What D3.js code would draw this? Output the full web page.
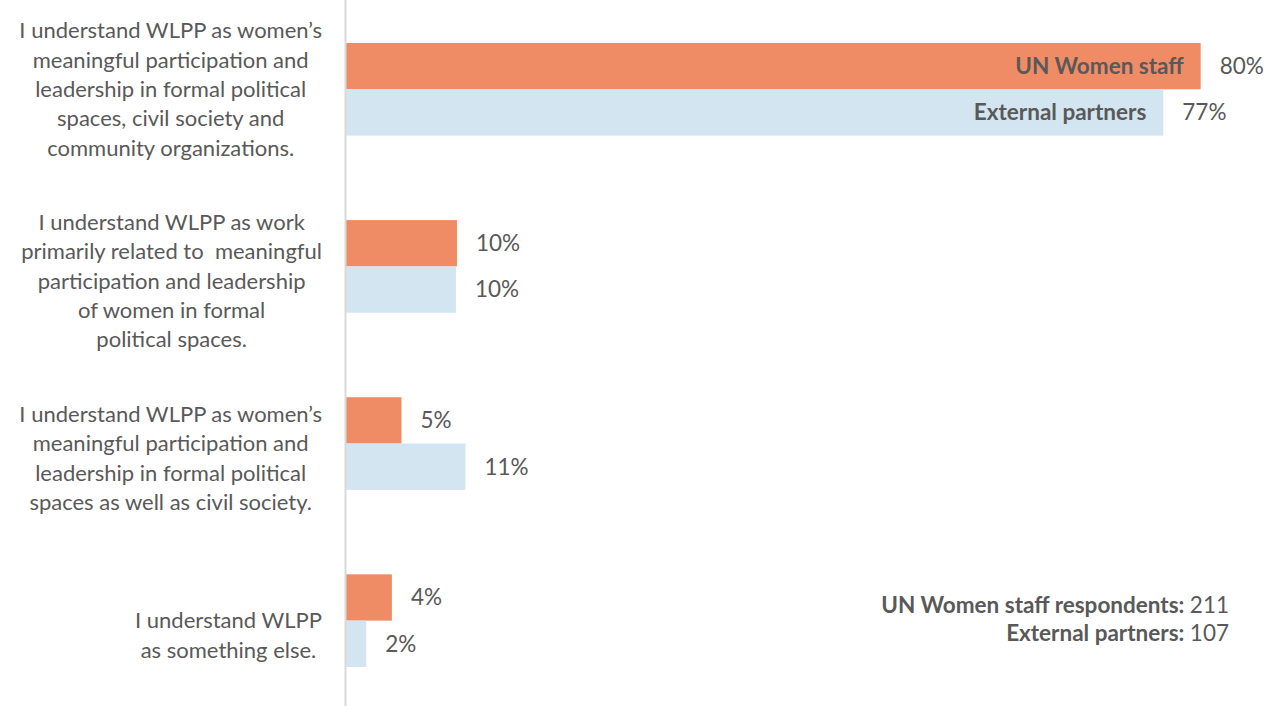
<!DOCTYPE html>
<html>
<head>
<meta charset="utf-8">
<script src="https://cdn.jsdelivr.net/npm/d3@7"></script>
<style>
  html, body { margin: 0; padding: 0; background: #ffffff; }
  svg { display: block; }
  text { font-family: Lato, "Open Sans", sans-serif; white-space: pre; }
</style>
</head>
<body>
<svg id="chart" width="1275" height="706"></svg>
<script>
// ---- data ----
const categories = [
  ["I understand WLPP as women\u2019s", "meaningful participation and", "leadership in formal political", "spaces, civil society and", "community organizations."],
  ["", "I understand WLPP as work", "primarily related to  meaningful", "participation and leadership", "of women in formal", "political spaces."],
  ["", "I understand WLPP as women\u2019s", "meaningful participation and", "leadership in formal political", "spaces as well as civil society."],
  ["", "I understand WLPP", "as something else."]
];
const seriesNames = ["UN Women staff", "External partners"];
const staffValues = [80.1, 10.4, 5.2, 4.3];
const externalValues = [76.6, 10.3, 11.2, 1.9];
const respondentLabels = ["UN Women staff respondents:", "External partners:"];
const respondentCounts = [211, 107];

// ---- layout ----
const W = 1275, H = 706;
const svg = d3.select("#chart");
const grey = "#595959";
const colors = ["#F08C65", "#D2E5F0"];
const fontSize = 22.5;
const catFont = 22;

const x = d3.scaleLinear().domain([0, 100]).range([346, 1413]);
const y = d3.scaleBand().domain(d3.range(categories.length)).range([0.75, 709.2])
  .paddingInner(0.477).paddingOuter(0.2385);
const ySub = d3.scaleBand().domain([0, 1]).range([0, y.bandwidth()]);

const series = [staffValues, externalValues];

// bars
series.forEach((vals, si) => {
  svg.append("g").selectAll("rect").data(vals).join("rect")
    .attr("x", x(0))
    .attr("y", (d, i) => y(i) + ySub(si))
    .attr("width", d => x(d) - x(0))
    .attr("height", ySub.bandwidth())
    .attr("fill", colors[si]);
  // value labels
  svg.append("g").selectAll("text").data(vals).join("text")
    .attr("x", d => x(d) + 19)
    .attr("y", (d, i) => y(i) + ySub(si) + ySub.bandwidth() / 2)
    .attr("dy", "0.35em")
    .attr("font-size", fontSize)
    .attr("fill", grey)
    .text(d => Math.round(d) + "%");
  // series name inside first bar
  svg.append("text")
    .attr("x", x(vals[0]) - 17)
    .attr("y", y(0) + ySub(si) + ySub.bandwidth() / 2)
    .attr("dy", "0.35em")
    .attr("text-anchor", "end")
    .attr("font-size", fontSize)
    .attr("font-weight", "bold")
    .attr("fill", grey)
    .text(seriesNames[si]);
});

// axis line
svg.append("line")
  .attr("x1", 345.5).attr("x2", 345.5)
  .attr("y1", 0).attr("y2", H)
  .attr("stroke", "#d9d9d9").attr("stroke-width", 2);

// category labels (centered block, right edge aligned)
const lineH = 29.3;
const rightEdge = 322;
categories.forEach((lines, i) => {
  const g = svg.append("g");
  const cy = y(i) + y.bandwidth() / 2;
  const n = lines.length;
  const texts = g.selectAll("text").data(lines).join("text")
    .attr("y", (d, k) => cy + (k - (n - 1) / 2) * lineH)
    .attr("dy", "0.35em")
    .attr("text-anchor", "middle")
    .attr("font-size", catFont)
    .attr("fill", grey)
    .text(d => d);
  let maxW = 0;
  texts.each(function() { maxW = Math.max(maxW, this.getComputedTextLength()); });
  texts.attr("x", rightEdge - maxW / 2);
});

// respondents note
respondentLabels.forEach((lab, i) => {
  const t = svg.append("text")
    .attr("x", 1229)
    .attr("y", 613 + i * 28)
    .attr("text-anchor", "end")
    .attr("font-size", fontSize)
    .attr("fill", grey);
  t.append("tspan").attr("font-weight", "bold").text(lab + " ");
  t.append("tspan").text(respondentCounts[i]);
});
</script>
</body>
</html>
